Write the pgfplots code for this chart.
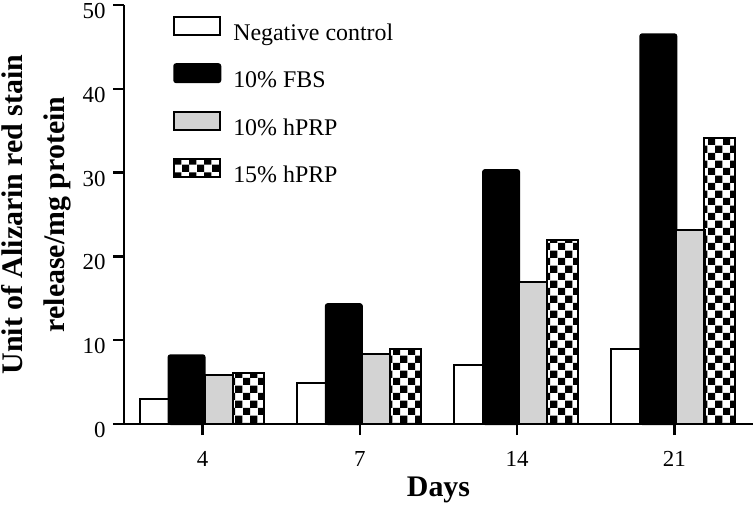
\documentclass[border=0pt]{standalone}
\usepackage{pgfplots}
\pgfplotsset{compat=1.18}
\usepackage{fontspec}
\setmainfont{Liberation Serif}
\usetikzlibrary{patterns.meta}
\definecolor{lgrey}{RGB}{211,211,211}
\tikzdeclarepattern{
  name=checkbig,
  type=uncolored,
  bounding box={(0,0) and (15.2bp,15.2bp)},
  tile size={(15.2bp,15.2bp)},
  code={\fill (0,0) rectangle (7.6bp,7.6bp); \fill (7.6bp,7.6bp) rectangle (15.2bp,15.2bp);}
}
\pgfplotsset{legbox/.style={legend image code/.code={\draw[##1] (0bp,0bp) rectangle (46bp,18bp);}}}
\begin{document}
\begin{tikzpicture}
\begin{axis}[
  scale only axis,
  width=629bp, height=419bp,
  xmin=-0.5, xmax=3.5,
  ymin=0, ymax=50,
  ybar,
  axis lines*=left,
  axis line style={line width=2.5bp},
  xtick={0,1,2,3},
  xticklabels={4,7,14,21},
  ytick={0,10,20,30,40,50},
  tick align=outside,
  major tick length=11bp,
  every tick/.style={line width=2.5bp, black},
  /pgf/number format/assume math mode=true,
  tick label style={font=\fontsize{23}{23}\selectfont},
  yticklabel style={yshift=-6bp, xshift=-4bp},
  xticklabel style={yshift=-13bp},
  clip=false,
  xlabel={Days},
  every axis x label/.style={at={(axis description cs:0.5,0)}, anchor=base, yshift=-72bp, font=\fontsize{30}{36}\selectfont\bfseries},
  ylabel={Unit of Alizarin red stain\\release/mg protein},
  every axis y label/.style={at={(axis description cs:0,0.5)}, xshift=-53bp, rotate=90, anchor=south, inner sep=0pt, align=center, font=\fontsize{30}{42}\selectfont\bfseries},
  legend style={at={(axis description cs:0.078,0.975)}, anchor=north west, draw=none, fill=none,
    font=\fontsize{24}{28}\selectfont, row sep=17bp, inner sep=0pt,
    nodes={inner sep=0pt, text height=17bp, text depth=6bp}},
  legend cell align=left,
]
\addplot[draw=black, fill=white, line width=2bp, bar width=0.184, bar shift=-0.308, legbox]
  coordinates {(0,3.0) (1,4.9) (2,7.0) (3,8.95)};
\addlegendentry{\hspace{12bp}Negative control}
\addplot[draw=black, fill=black, line width=2bp, rounded corners=2bp, bar width=0.229, bar shift=-0.102, legbox]
  coordinates {(0,8.2) (1,14.3) (2,30.3) (3,46.5)};
\addlegendentry{\hspace{12bp}10\% FBS}
\addplot[draw=black, fill=lgrey, line width=2bp, bar width=0.18, bar shift=0.102, legbox]
  coordinates {(0,5.85) (1,8.4) (2,17.0) (3,23.1)};
\addlegendentry{\hspace{12bp}10\% hPRP}
\addplot[draw=black, pattern=checkbig, pattern color=black, line width=2bp, bar width=0.197, bar shift=0.289, legbox]
  coordinates {(0,6.05) (1,8.95) (2,22.0) (3,34.1)};
\addlegendentry{\hspace{12bp}15\% hPRP}
\draw[line width=2.5bp] (axis cs:-0.57,0) -- (axis cs:-0.5,0);
\coordinate (BL) at (rel axis cs:-0.19714,-0.1957);
\coordinate (TR) at (rel axis cs:1.00318,1.01193);
\end{axis}
\pgfresetboundingbox
\path[use as bounding box] (BL) rectangle (TR);
\end{tikzpicture}
\end{document}
